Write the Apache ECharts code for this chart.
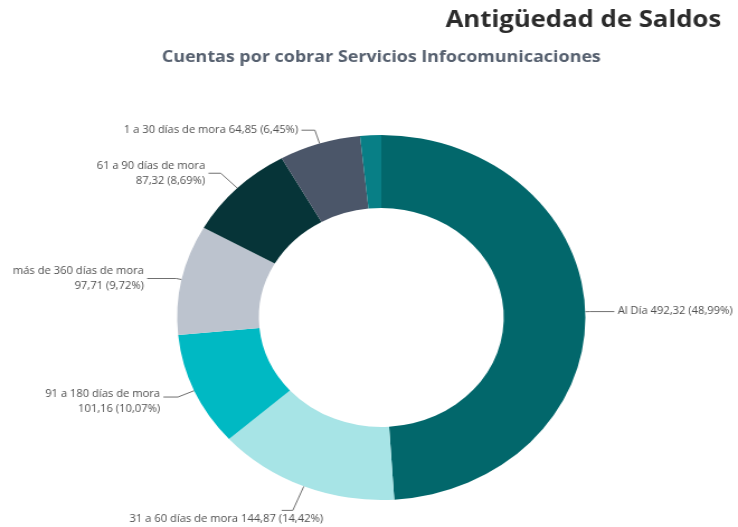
<!DOCTYPE html>
<html lang="es">
<head>
<meta charset="utf-8">
<title>Antigüedad de Saldos</title>
<script src="https://cdn.jsdelivr.net/npm/echarts@6/dist/echarts.min.js"></script>
<style>
  html, body { margin: 0; padding: 0; background: #ffffff; overflow: hidden; }
  #stage { width: 738px; height: 527px; overflow: hidden; }
  /* the chart is drawn on a narrower canvas and widened to the page */
  #chart { width: 660px; height: 527px; transform: scaleX(1.11818); transform-origin: 0 0; }
</style>
</head>
<body>
<div id="stage"><div id="chart"></div></div>
<script>
// Aging buckets of receivables (millions), clockwise from the top
const categories = [
  'Al Día',
  '31 a 60 días de mora',
  '91 a 180 días de mora',
  'más de 360 días de mora',
  '61 a 90 días de mora',
  '1 a 30 días de mora',
  '181 a 360 días de mora'
];
const values = [492.32, 144.87, 101.16, 97.71, 87.32, 64.85, 16.71];
const colors = ['#02676b', '#a7e4e6', '#00b9c3', '#bcc3ce', '#063438', '#4b5669', '#087f86'];

const total = values.reduce((a, b) => a + b, 0);
const fmt = v => v.toFixed(2).replace('.', ',');

// buckets whose label sits on two lines, and buckets without a label
const twoLine = new Set(['61 a 90 días de mora', 'más de 360 días de mora', '91 a 180 días de mora']);
const hidden = new Set(['181 a 360 días de mora']);
// connector lengths per bucket [radial, horizontal]
const leader = {
  'Al Día': [4, 22],
  '31 a 60 días de mora': [26, 10],
  '91 a 180 días de mora': [16, 13],
  'más de 360 días de mora': [5, 26],
  '61 a 90 días de mora': [21, 11],
  '1 a 30 días de mora': [14, 12],
  '181 a 360 días de mora': [5, 5]
};
// small nudges for labels that sit off their leader's default end
const nudge = {
  '31 a 60 días de mora': { dx: 40, dy: 9 },
  '91 a 180 días de mora': { dy: 5 }
};

const data = categories.map((name, i) => ({
  name,
  value: values[i],
  itemStyle: { color: colors[i] },
  label: { show: !hidden.has(name) },
  labelLine: { show: !hidden.has(name), length: leader[name][0], length2: leader[name][1] }
}));

const chart = echarts.init(document.getElementById('chart'), null, { renderer: 'canvas' });
chart.setOption({
  animation: false,
  backgroundColor: '#ffffff',
  title: [
    {
      text: 'Antigüedad de Saldos',
      right: 10,
      top: 4,
      textStyle: { fontFamily: 'Open Sans', fontWeight: 700, fontSize: 23, color: '#2b2b2b' }
    },
    {
      text: 'Cuentas por cobrar Servicios Infocomunicaciones',
      left: 336,
      textAlign: 'center',
      top: 44,
      textStyle: { fontFamily: 'Open Sans', fontWeight: 700, fontSize: 16, color: '#56606f' }
    }
  ],
  series: [{
    type: 'pie',
    center: [341, 317.5],
    radius: [109.5, 182.5],
    startAngle: 90,
    clockwise: true,
    avoidLabelOverlap: false,
    silent: true,
    itemStyle: { borderWidth: 0 },
    label: {
      show: true,
      position: 'outside',
      alignTo: 'none',
      overflow: 'none',
      distanceToLabelLine: 3,
      fontFamily: 'Open Sans',
      fontSize: 10,
      lineHeight: 15,
      color: '#505050',
      formatter: p => {
        const pct = fmt(p.value / total * 100) + '%';
        const sep = twoLine.has(p.name) ? '\n' : ' ';
        return p.name + sep + fmt(p.value) + ' (' + pct + ')';
      }
    },
    labelLine: {
      show: true,
      smooth: false,
      lineStyle: { color: '#707070', width: 1 }
    },
    labelLayout: p => nudge[categories[p.dataIndex]] || {},
    data
  }]
});
</script>
</body>
</html>
